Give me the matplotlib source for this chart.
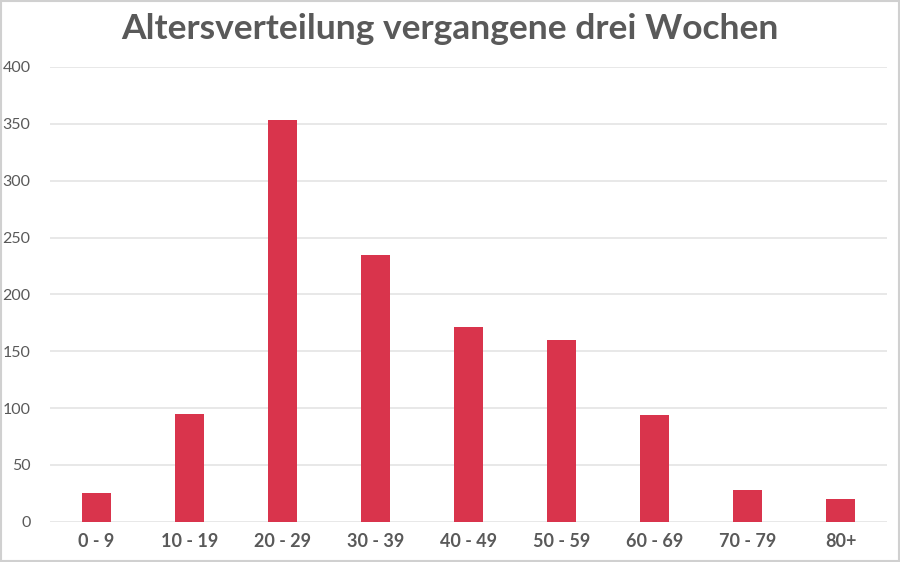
import matplotlib
matplotlib.use("Agg")
import matplotlib.pyplot as plt
from matplotlib.patches import Rectangle

# Data
age_groups = ["0 - 9", "10 - 19", "20 - 29", "30 - 39", "40 - 49",
              "50 - 59", "60 - 69", "70 - 79", "80+"]
counts = [25, 95, 353, 235, 171, 160, 94, 28, 20]
y_ticks = [0, 50, 100, 150, 200, 250, 300, 350, 400]

bar_color = "#D9344C"
text_color = "#595959"
grid_color = "#E6E6E6"

plt.rcParams["font.family"] = ["Lato", "DejaVu Sans"]

fig = plt.figure(figsize=(9, 5.62), dpi=100)
ax = fig.add_axes([0.0556, 0.0717, 0.93, 0.8091])

x = range(len(age_groups))
ax.bar(x, counts, width=0.31, color=bar_color, zorder=3)

ax.set_xlim(-0.5, len(age_groups) - 0.5)
ax.set_ylim(0, 400)
ax.set_yticks(y_ticks)
ax.set_xticks(list(x))
ax.set_xticklabels(age_groups, fontsize=13, fontweight="bold", color=text_color)
ax.tick_params(axis="y", labelsize=11.5, labelcolor=text_color, length=0, pad=14)
ax.tick_params(axis="x", length=0, pad=8)

ax.grid(axis="y", color=grid_color, linewidth=1.3, zorder=0)
for s in ax.spines.values():
    s.set_visible(False)

fig.suptitle("Altersverteilung vergangene drei Wochen", fontsize=25.5,
             fontweight="bold", color=text_color, y=0.977, va="top")

# thin gray frame around the whole image
fig.patches.append(Rectangle((0.001, 0.002), 0.998, 0.996, transform=fig.transFigure,
                             fill=False, edgecolor="#D0D0D0", linewidth=1.5))

fig.savefig("out.png", dpi=100, facecolor="white")
